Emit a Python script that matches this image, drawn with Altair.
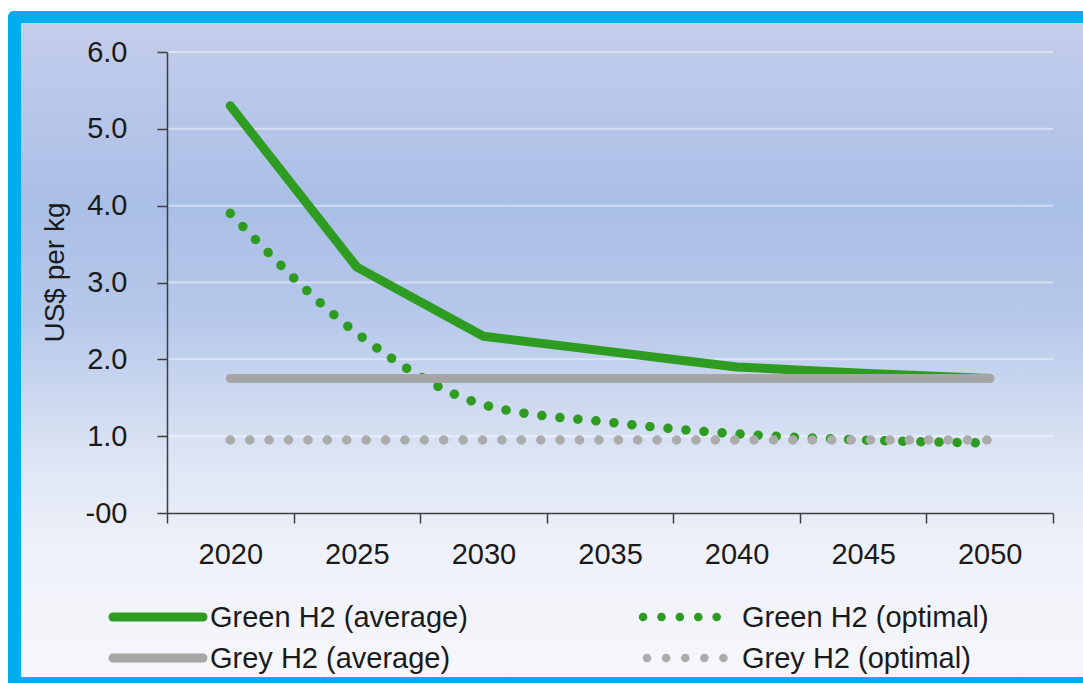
import altair as alt
import pandas as pd

# ---- data -------------------------------------------------------------
years = [2020, 2025, 2030, 2035, 2040, 2045, 2050]
green_average = [5.3, 3.2, 2.3, 2.1, 1.9, 1.82, 1.75]
green_optimal = [3.9, 2.34, 1.41, 1.18, 1.03, 0.95, 0.91]
grey_average = [1.75, 1.75, 1.75, 1.75, 1.75, 1.75, 1.75]
grey_optimal = [0.95, 0.95, 0.95, 0.95, 0.95, 0.95, 0.95]
series_names = ["Green H2 (average)", "Green H2 (optimal)",
                "Grey H2 (average)", "Grey H2 (optimal)"]
y_ticks = [0, 1, 2, 3, 4, 5, 6]

FONT = "Liberation Sans"
TEXT = "#1a1a1a"
AXIS = "#3c3c3c"
GREEN = "#2E9B21"
GREY = "#A6A6A6"
GREY_DOT = "#ABABAB"
CYAN = "#00AEEF"

W, H = 886, 461
PAD_L, PAD_T = 167, 52
RIGHT = 1083 - PAD_L  # right edge of the canvas in view coordinates

frames = []
for name, vals in zip(series_names, [green_average, green_optimal, grey_average, grey_optimal]):
    frames.append(pd.DataFrame({"year": years, "value": vals, "series": name}))
df = pd.concat(frames, ignore_index=True)

x_scale = alt.Scale(type="band", domain=years, paddingInner=0, paddingOuter=0)
y_scale = alt.Scale(domain=[0, 6], nice=False, zero=True)

x_axis = alt.Axis(
    tickBand="extent", title=None, labelAngle=0, grid=False,
    labelFont=FONT, labelFontSize=29, labelColor=TEXT, labelPadding=17,
    tickSize=10, tickColor=AXIS, tickWidth=1.5,
    domainColor=AXIS, domainWidth=1.5, zindex=1,
)
y_axis = alt.Axis(
    values=y_ticks, grid=False,
    labelExpr="datum.value == 0 ? '-00' : format(datum.value, '.1f')",
    labelFont=FONT, labelFontSize=29, labelColor=TEXT, labelPadding=30,
    tickSize=10, tickColor=AXIS, tickWidth=1.5,
    domainColor=AXIS, domainWidth=1.5,
    title="US$ per kg", titleFont=FONT, titleFontSize=28, titleFontWeight="normal",
    titleColor=TEXT, titleAngle=270, titleAlign="center", titleBaseline="middle",
    titleX=-112, titleY=220, zindex=1,
)

X = alt.X("year:O", scale=x_scale, axis=x_axis)
Y = alt.Y("value:Q", scale=y_scale, axis=y_axis)

one = pd.DataFrame({"k": [0]})


def box(x1, x2, y1, y2, **mark):
    return alt.Chart(one).mark_rect(**mark).encode(
        x=alt.value(x1), x2=alt.value(x2), y=alt.value(y1), y2=alt.value(y2)
    )


# slide frame: cyan border (top, left, bottom) around a soft blue gradient panel
border_top = box(-159, RIGHT, -41, -29, fill=CYAN, cornerRadiusTopLeft=14)
border_left = box(-159, -146, -41, 631, fill=CYAN, cornerRadiusTopLeft=14)
border_bottom = box(-159, RIGHT, 625, 631, fill=CYAN)
panel = box(
    -147, RIGHT, -30, 626,
    fill=alt.LinearGradient(
        gradient="linear", x1=0, x2=0, y1=0, y2=1,
        stops=[
            alt.GradientStop(color="#C6CEEA", offset=0.0),
            alt.GradientStop(color="#BCC9EA", offset=0.08),
            alt.GradientStop(color="#AABFE6", offset=0.28),
            alt.GradientStop(color="#B6C8EA", offset=0.45),
            alt.GradientStop(color="#DCE4F4", offset=0.66),
            alt.GradientStop(color="#EEF1F9", offset=0.8),
            alt.GradientStop(color="#F6F7FB", offset=1.0),
        ],
    ),
)

grid = alt.Chart(pd.DataFrame({"value": y_ticks[1:]})).mark_rule(
    color="white", strokeWidth=2, opacity=0.45
).encode(y=Y)

base = alt.Chart(df)


def series_line(name, **mark):
    return base.transform_filter(alt.datum.series == name).mark_line(
        strokeCap="round", strokeJoin="round", **mark
    ).encode(x=X, y=Y)


green_avg_line = series_line(series_names[0], color=GREEN, strokeWidth=9)
green_opt_line = series_line(series_names[1], color=GREEN, strokeWidth=9.5,
                             strokeDash=[0.1, 18], interpolate="monotone")
grey_avg_line = series_line(series_names[2], color=GREY, strokeWidth=9)
grey_opt_line = series_line(series_names[3], color=GREY_DOT, strokeWidth=9.5,
                            strokeDash=[0.1, 19.3])


# legend beneath the axis, two columns
def legend_sample(x1, x2, y, **mark):
    return alt.Chart(one).mark_rule(strokeCap="round", **mark).encode(
        x=alt.value(x1), x2=alt.value(x2), y=alt.value(y)
    )


def legend_label(name, x, y):
    return alt.Chart(pd.DataFrame({"label": [name]})).mark_text(
        align="left", baseline="middle", font=FONT, fontSize=29, color=TEXT
    ).encode(x=alt.value(x), y=alt.value(y), text="label:N")


legend = [
    legend_sample(-54, 36, 565, color=GREEN, strokeWidth=9),
    legend_label(series_names[0], 43, 566),
    legend_sample(476, 553, 565, color=GREEN, strokeWidth=8.5, strokeDash=[0.1, 18.3]),
    legend_label(series_names[1], 575, 566),
    legend_sample(-54, 36, 606, color=GREY, strokeWidth=9),
    legend_label(series_names[2], 43, 607),
    legend_sample(480, 558, 606, color=GREY_DOT, strokeWidth=8.5, strokeDash=[0.1, 19]),
    legend_label(series_names[3], 575, 607),
]

chart = alt.layer(
    panel, border_top, border_left, border_bottom, grid,
    green_avg_line, green_opt_line, grey_avg_line, grey_opt_line,
    *legend,
).properties(
    width=W, height=H,
    autosize=alt.AutoSizeParams(type="none"),
    padding={"left": PAD_L, "top": PAD_T, "right": 1083 - PAD_L - W, "bottom": 683 - PAD_T - H},
    background="white",
).configure_view(stroke=None)

chart.save("out.html", embed_options={"renderer": "svg", "actions": False})
